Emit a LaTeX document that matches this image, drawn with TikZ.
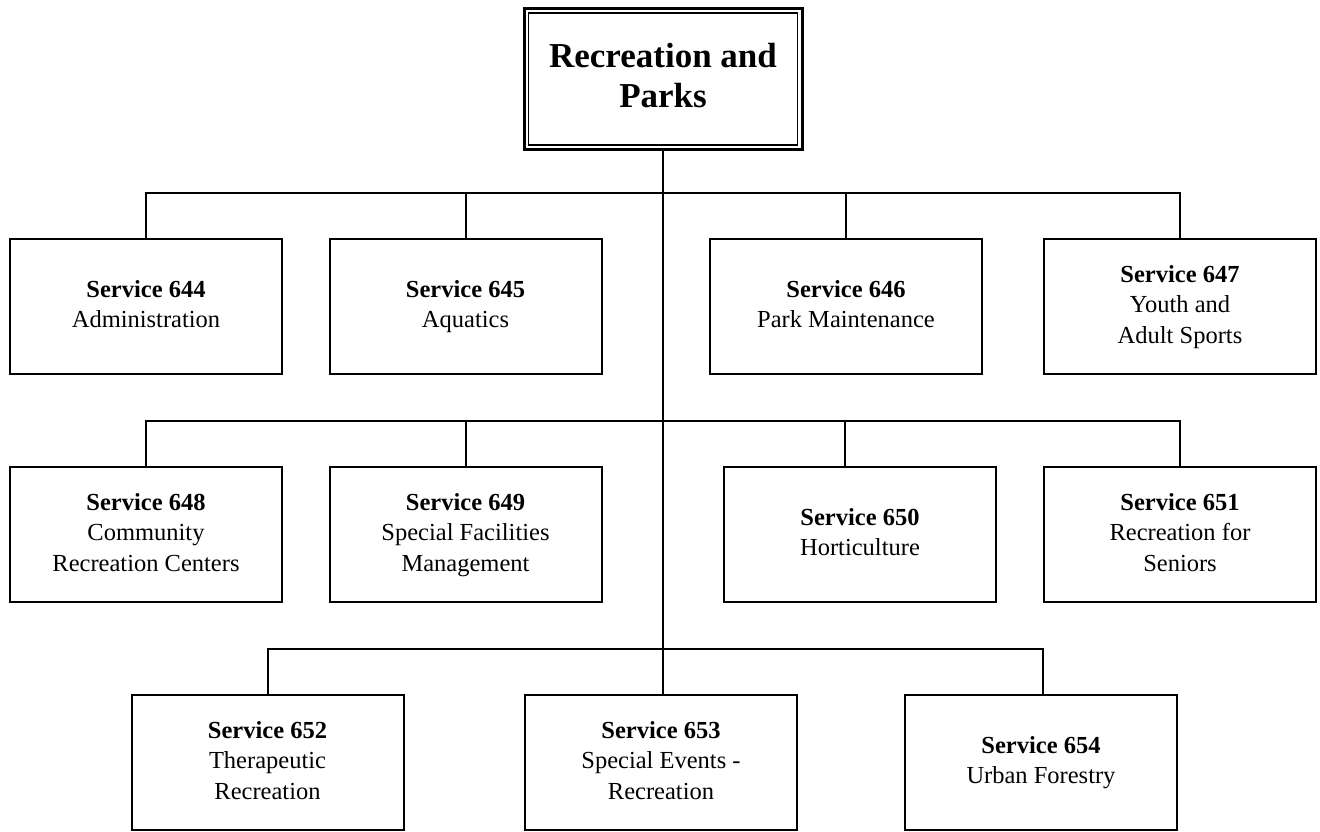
\documentclass[tikz,border=0pt]{standalone}
\usepackage{fontspec}
\setmainfont{Liberation Serif}
\usetikzlibrary{calc}

% service label: bold number line followed by the description lines,
% with struts so every box centres its text the same way
\newcommand{\svclabel}[2]{\strut\textbf{Service #1}\\#2\strut}

\begin{document}
\begin{tikzpicture}[x=1pt,y=-1pt,
  svcbox/.style={draw, line width=2pt, minimum width=272pt, minimum height=135pt,
    align=center, inner sep=2pt, font=\fontsize{24.5}{30.5}\selectfont},
  headbox/.style={draw, line width=3pt, minimum width=278pt, minimum height=141pt,
    align=center, inner sep=2pt, font=\fontsize{35}{40}\selectfont\bfseries},
  link/.style={line width=2pt},
  trunk/.style={line width=2.3pt}]
\useasboundingbox (0,0) rectangle (1320,831);

% department head, drawn with an outer heavy frame and a thin inner frame
\node[headbox] (top) at (663,79) {\strut Recreation and\\Parks\strut};
\draw[line width=1.5pt] ($(top.north west)+(6pt,-6pt)$) rectangle ($(top.south east)+(-6pt,6pt)$);

% first tier
\node[svcbox] (s644) at (146,306.5)    {\svclabel{644}{Administration}};
\node[svcbox] (s645) at (465.5,306.5)  {\svclabel{645}{Aquatics}};
\node[svcbox] (s646) at (846,306.5)    {\svclabel{646}{Park Maintenance}};
\node[svcbox] (s647) at (1180,306.5)   {\svclabel{647}{Youth and\\Adult Sports}};

% second tier
\node[svcbox] (s648) at (146,534.5)    {\svclabel{648}{Community\\Recreation Centers}};
\node[svcbox] (s649) at (465.5,534.5)  {\svclabel{649}{Special Facilities\\Management}};
\node[svcbox] (s650) at (860,534.5)    {\svclabel{650}{Horticulture}};
\node[svcbox] (s651) at (1180,534.5)   {\svclabel{651}{Recreation for\\Seniors}};

% third tier
\node[svcbox] (s652) at (267.5,762.5)  {\svclabel{652}{Therapeutic\\Recreation}};
\node[svcbox] (s653) at (661,762.5)    {\svclabel{653}{Special Events -\\Recreation}};
\node[svcbox] (s654) at (1041,762.5)   {\svclabel{654}{Urban Forestry}};

% bus levels and off-centre attachment points
\coordinate (b1) at (663,193);
\coordinate (b2) at (663,421);
\coordinate (b3) at (663,649);
\coordinate (c650) at (845,466);
\coordinate (c652) at (268,694);
\coordinate (c654) at (1043,694);

% main trunk
\draw[trunk] (top.south) -- (top.south |- s653.north);

% first tier connectors
\draw[link] (s644.north) |- (s647.north |- b1) -- (s647.north);
\draw[link] (s645.north) -- (s645.north |- b1);
\draw[link] (s646.north) -- (s646.north |- b1);

% second tier connectors
\draw[link] (s648.north) |- (s651.north |- b2) -- (s651.north);
\draw[link] (s649.north) -- (s649.north |- b2);
\draw[link] (c650) -- (c650 |- b2);

% third tier connectors
\draw[link] (c652) |- (c654 |- b3) -- (c654);
\end{tikzpicture}
\end{document}
